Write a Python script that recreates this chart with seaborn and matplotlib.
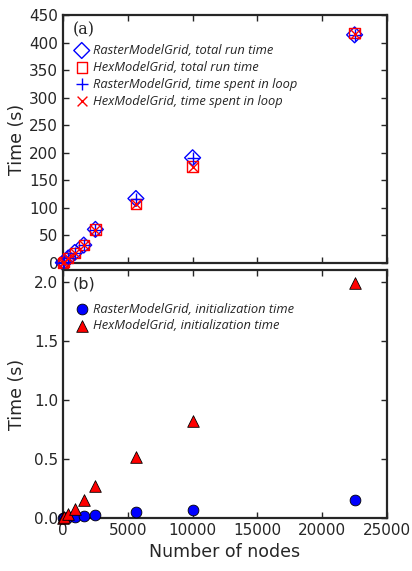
import numpy as np
import pandas as pd
import matplotlib
matplotlib.use("Agg")
import matplotlib.pyplot as plt
import seaborn as sns

nodes = [25, 100, 400, 900, 1600, 2500, 5625, 10000, 22500]
raster_total = [0.5, 2.2, 9.0, 19.0, 32.5, 61.0, 117.0, 191.0, 414.0]
hex_total = [0.5, 2.0, 8.5, 18.0, 33.0, 61.0, 107.0, 175.0, 417.0]
raster_loop = [0.4, 2.0, 8.7, 18.5, 32.0, 60.5, 116.0, 190.0, 413.0]
hex_loop = [0.4, 1.9, 8.2, 17.6, 32.5, 60.5, 106.5, 174.0, 416.0]
raster_init = [0.001, 0.003, 0.006, 0.010, 0.015, 0.025, 0.048, 0.070, 0.155]
hex_init = [0.002, 0.008, 0.034, 0.076, 0.155, 0.27, 0.52, 0.82, 1.99]

sns.set_style("ticks")
plt.rcParams.update({
    "font.family": ["DejaVu Sans"],
    "xtick.direction": "in", "ytick.direction": "in",
    "xtick.top": True, "ytick.right": True,
    "axes.linewidth": 1.6,
    "xtick.major.size": 4, "ytick.major.size": 4,
})

df = pd.DataFrame({"nodes": nodes, "raster_total": raster_total, "hex_total": hex_total,
                   "raster_loop": raster_loop, "hex_loop": hex_loop,
                   "raster_init": raster_init, "hex_init": hex_init})

fig = plt.figure(figsize=(4.12, 5.71), dpi=100)
W, H = 412, 571
axA = fig.add_axes([63 / W, 1 - 263 / H, (387 - 63) / W, (263 - 15) / H])
axB = fig.add_axes([63 / W, 1 - 518 / H, (387 - 63) / W, (518 - 270) / H])

common = dict(clip_on=False, zorder=5)
sns.scatterplot(data=df, x="nodes", y="raster_total", ax=axA, marker="D", s=65,
                facecolors="none", edgecolor="blue", linewidth=1.0,
                label="RasterModelGrid, total run time", **common)
sns.scatterplot(data=df, x="nodes", y="hex_total", ax=axA, marker="s", s=55,
                facecolors="none", edgecolor="red", linewidth=1.0,
                label="HexModelGrid, total run time", **common)
sns.scatterplot(data=df, x="nodes", y="raster_loop", ax=axA, marker="+", s=80,
                color="blue", linewidth=1.0,
                label="RasterModelGrid, time spent in loop", **common)
sns.scatterplot(data=df, x="nodes", y="hex_loop", ax=axA, marker="x", s=50,
                color="red", linewidth=1.0,
                label="HexModelGrid, time spent in loop", **common)

sns.scatterplot(data=df, x="nodes", y="raster_init", ax=axB, marker="o", s=60,
                color="blue", edgecolor="black", linewidth=0.6,
                label="RasterModelGrid, initialization time", **common)
sns.scatterplot(data=df, x="nodes", y="hex_init", ax=axB, marker="^", s=70,
                color="red", edgecolor="black", linewidth=0.6,
                label="HexModelGrid, initialization time", **common)

for ax in (axA, axB):
    ax.set_xlim(0, 25000)
    ax.set_xticks([0, 5000, 10000, 15000, 20000, 25000])
    ax.tick_params(labelsize=11, width=1)
    ax.set_ylabel("Time (s)", fontsize=12.5)
    ax.yaxis.set_label_coords(-0.115, 0.5)
    for sp in ax.spines.values():
        sp.set_visible(True)

axA.set_ylim(0, 450)
axA.set_yticks(np.arange(0, 451, 50))
axA.set_xticklabels([])
axA.set_xlabel("")
axB.set_ylim(0, 2.1)
axB.set_yticks([0.0, 0.5, 1.0, 1.5, 2.0])
axB.set_yticklabels(["0.0", "0.5", "1.0", "1.5", "2.0"])
axB.set_xlabel("Number of nodes", fontsize=12.5)

legfont = {"family": "Open Sans", "style": "italic", "size": 9.3}
axA.legend(loc="upper left", bbox_to_anchor=(0.0, 0.92), frameon=False, prop=legfont,
           handletextpad=0.1, labelspacing=0.3, borderaxespad=0.3, handlelength=1.5)
axB.legend(loc="upper left", bbox_to_anchor=(0.0, 0.905), frameon=False, prop=legfont,
           handletextpad=0.1, labelspacing=0.3, borderaxespad=0.3, handlelength=1.5)

axA.text(0.03, 0.975, "(a)", transform=axA.transAxes, fontsize=11.5,
         family="DejaVu Serif", va="top", ha="left")
axB.text(0.03, 0.975, "(b)", transform=axB.transAxes, fontsize=11.5,
         va="top", ha="left")

fig.savefig("out.png", dpi=100)
